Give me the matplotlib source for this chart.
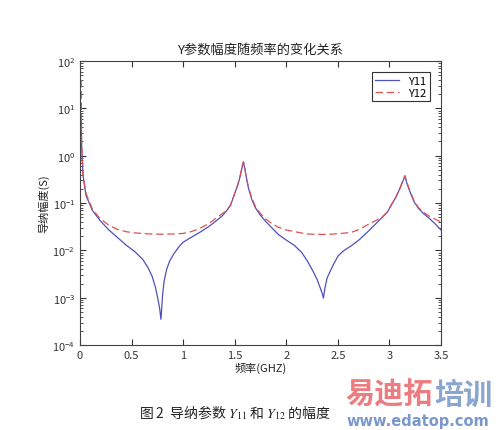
import numpy as np
import matplotlib
matplotlib.use("Agg")
import matplotlib.pyplot as plt
from matplotlib.ticker import LogLocator, NullFormatter

plt.rcParams['font.family'] = ['Noto Sans CJK SC', 'DejaVu Sans']
plt.rcParams['mathtext.fontset'] = 'stix'

# frequency samples (GHz)
freq = [0.012, 0.015, 0.02, 0.03, 0.058, 0.12, 0.19, 0.28, 0.36, 0.45, 0.53, 0.61, 0.66,
        0.70, 0.73, 0.755, 0.772, 0.785, 0.80, 0.815, 0.84, 0.87, 0.91, 0.96, 1.0,
        1.08, 1.16, 1.24, 1.32, 1.38, 1.42, 1.46, 1.50, 1.53, 1.555, 1.575, 1.585,
        1.60, 1.615, 1.635, 1.665, 1.70, 1.75, 1.80, 1.86, 1.92, 2.0, 2.08, 2.15,
        2.21, 2.26, 2.30, 2.33, 2.35, 2.36, 2.375, 2.395, 2.425, 2.46, 2.505, 2.56,
        2.63, 2.71, 2.80, 2.87, 2.93, 2.98, 3.02, 3.06, 3.10, 3.13, 3.15, 3.17,
        3.20, 3.24, 3.28, 3.33, 3.38, 3.44, 3.50]

y11 = [6, 2.0, 1.0, 0.38, 0.145, 0.070, 0.044, 0.027, 0.019, 0.0128, 0.0095, 0.0064, 0.0043,
       0.0028, 0.0017, 0.00095, 0.0006, 0.00035, 0.0011, 0.0022, 0.0040, 0.006, 0.0085, 0.012, 0.0149,
       0.019, 0.024, 0.031, 0.042, 0.054, 0.068, 0.09, 0.16, 0.24, 0.38, 0.62, 0.73,
       0.50, 0.32, 0.20, 0.12, 0.080, 0.055, 0.041, 0.030, 0.022, 0.0165, 0.0127, 0.0090,
       0.0057, 0.0036, 0.0024, 0.0016, 0.0012, 0.00098, 0.0016, 0.0026, 0.0036, 0.0052, 0.0078, 0.0100,
       0.0125, 0.017, 0.026, 0.037, 0.050, 0.064, 0.092, 0.13, 0.20, 0.29, 0.37, 0.26,
       0.17, 0.105, 0.078, 0.060, 0.049, 0.037, 0.027]

y12 = [40, 2.2, 1.05, 0.40, 0.16, 0.075, 0.048, 0.034, 0.028, 0.0248, 0.0235, 0.0228, 0.0224,
       0.0222, 0.0221, 0.0221, 0.022, 0.022, 0.022, 0.022, 0.0221, 0.0222, 0.0223, 0.0226, 0.0228,
       0.025, 0.029, 0.036, 0.048, 0.060, 0.070, 0.092, 0.16, 0.25, 0.40, 0.65, 0.75,
       0.52, 0.33, 0.21, 0.13, 0.085, 0.060, 0.046, 0.037, 0.031, 0.027, 0.025, 0.0232,
       0.0222, 0.022, 0.0218, 0.0218, 0.0218, 0.0218, 0.0218, 0.0219, 0.022, 0.0222, 0.0226, 0.0232,
       0.024, 0.028, 0.036, 0.043, 0.051, 0.065, 0.094, 0.13, 0.20, 0.30, 0.38, 0.27,
       0.18, 0.11, 0.081, 0.064, 0.054, 0.046, 0.040]

xticks = [0, 0.5, 1, 1.5, 2, 2.5, 3, 3.5]
xticklabels = ['0', '0.5', '1', '1.5', '2', '2.5', '3', '3.5']

fig = plt.figure(figsize=(5, 4.31), dpi=100)
ax = fig.add_axes([0.16, 0.197, 0.722, 0.659])

ax.semilogy(freq, y11, color='#5050bc', lw=0.9, label='Y11')
ax.semilogy(freq, y12, color='#e05050', lw=0.9, ls=(0, (6, 3)), label='Y12')

ax.set_xlim(0, 3.5)
ax.set_ylim(1e-4, 1e2)
ax.set_xticks(xticks)
ax.set_xticklabels(xticklabels)
ax.yaxis.set_major_locator(LogLocator(base=10, numticks=10))
ax.yaxis.set_minor_locator(LogLocator(base=10, subs=np.arange(2, 10), numticks=10))
ax.yaxis.set_minor_formatter(NullFormatter())
ax.tick_params(which='both', direction='in', top=True, right=True, labelsize=8,
               colors='#333333', length=4)
ax.tick_params(which='minor', length=2)
for s in ax.spines.values():
    s.set_color('#444444')
    s.set_linewidth(0.8)

ax.set_title('Y参数幅度随频率的变化关系', fontsize=9.5, pad=6, color='#222222')
ax.set_xlabel('频率(GHZ)', fontsize=8, labelpad=1, color='#222222')
ax.set_ylabel('导纳幅度(S)', fontsize=8, labelpad=2, color='#222222')

leg = ax.legend(loc='upper right', fontsize=8, fancybox=False, framealpha=1,
                edgecolor='#333333', handlelength=2.2, borderpad=0.3,
                labelspacing=0.2, borderaxespad=1.0)
leg.get_frame().set_linewidth(0.8)

fig.text(0.47, 0.042, '图 2  导纳参数 $Y_{11}$ 和 $Y_{12}$ 的幅度', fontsize=10,
         ha='center', va='center', color='#222222')

# watermark
fig.text(0.69, 0.085, '易迪拓', fontsize=21, fontweight='bold', color='#ec7c80',
         ha='left', va='center')
fig.text(0.868, 0.085, '培训', fontsize=21, fontweight='bold', color='#8aa6cf',
         ha='left', va='center')
fig.text(0.692, 0.022, 'www.edatop.com', fontsize=10.5, fontweight='bold',
         color='#7a98cc', ha='left', va='center', family='DejaVu Sans')

fig.savefig('out.png', dpi=100)
